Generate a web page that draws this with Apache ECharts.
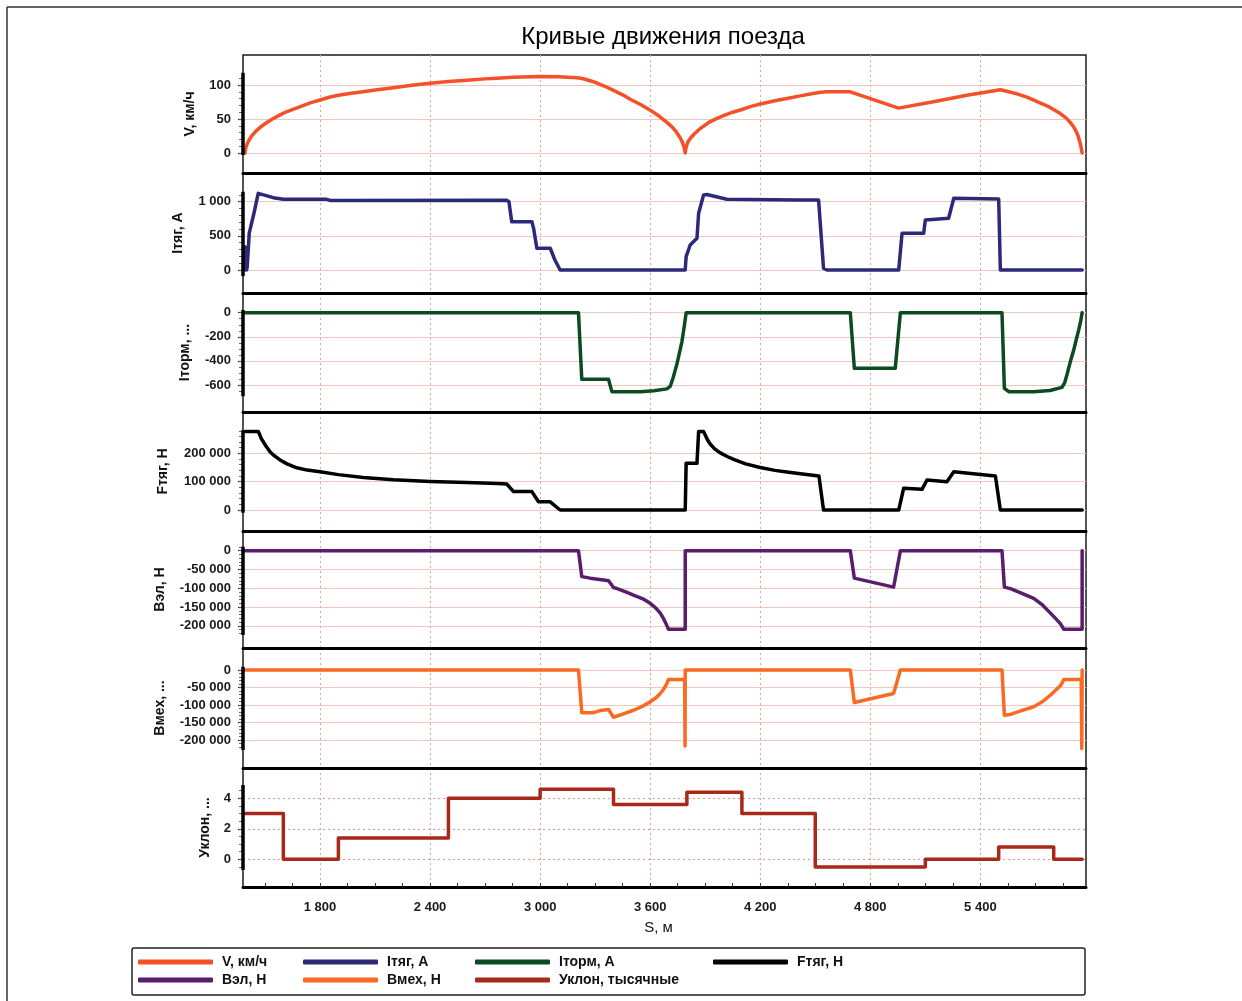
<!DOCTYPE html>
<html><head><meta charset="utf-8">
<script src="https://cdn.jsdelivr.net/npm/echarts@6/dist/echarts.min.js"></script>
<style>html,body{margin:0;padding:0;background:#fff}#c{width:1242px;height:1001px}</style>
</head><body><div id="c"></div><script>
// ---------- DATA ----------
const title = 'Кривые движения поезда';
const sAxisName = 'S, м';
const seriesNames = ['V, км/ч','Iтяг, А','Iторм, А','Fтяг, Н','Вэл, Н','Вмех, Н','Уклон, тысячные'];
const axisNames = ['V, км/ч','Iтяг, А','Iторм, ...','Fтяг, Н','Вэл, Н','Вмех, ...','Уклон, ...'];
const sTicks = [1800,2400,3000,3600,4200,4800,5400];
const sMinorTicks = [1500,1650,1800,1950,2100,2250,2400,2550,2700,2850,3000,3150,3300,3450,3600,3750,3900,4050,4200,4350,4500,4650,4800,4950,5100,5250,5400,5550,5700,5850];
const vTicks = [0,50,100];
const iTyagTicks = [0,500,1000];
const iTormTicks = [-600,-400,-200,0];
const fTicks = [0,100000,200000];
const bElTicks = [-200000,-150000,-100000,-50000,0];
const bMechTicks = [-200000,-150000,-100000,-50000,0];
const slopeTicks = [0,2,4];

const speed = [[1391,0],[1393,5],[1398,10],[1405,15],[1415,20],[1430,26],[1450,32],[1475,38],[1500,43],[1540,50],[1582,56],[1620,61],[1660,65],[1700,69],[1750,74],[1800,78],[1850,82],[1900,85],[1970,88],[2035,90],[2100,92.5],[2200,96],[2300,99.5],[2400,102.5],[2500,105],[2600,107],[2700,109],[2764,110],[2850,111.5],[2950,112.3],[3000,112.5],[3100,112],[3150,111.5],[3200,110.8],[3230,109.5],[3250,108],[3300,104],[3350,98.5],[3400,92],[3450,85.5],[3491,79],[3550,71],[3600,63],[3650,54],[3691,45],[3720,38],[3740,32],[3764,22],[3775,16],[3785,8],[3791,0],[3794,6],[3800,12],[3807,17],[3820,22],[3840,28],[3873,36],[3920,45],[3964,51],[4000,55],[4050,60],[4100,64],[4150,68.5],[4200,72],[4250,75],[4300,78],[4360,81],[4418,84],[4480,87],[4520,89],[4560,90],[4691,90],[4954,66],[5144,75.5],[5327,85],[5509,93],[5550,90.5],[5600,87],[5650,82.5],[5689,78],[5740,72],[5780,67],[5836,58],[5870,51],[5890,45],[5907,39],[5920,33],[5930,27],[5940,19],[5948,10],[5955,0]];
const iTyag = [[1390,0],[1391,340],[1400,0],[1403,50],[1414,540],[1440,834],[1463,1122],[1469,1122],[1545,1059],[1600,1035],[1836,1035],[1855,1018],[2818,1020],[2830,1000],[2845,707],[2955,707],[2965,600],[2982,318],[3055,318],[3080,150],[3109,0],[3791,0],[3796,195],[3818,366],[3855,464],[3864,830],[3891,1098],[3909,1105],[4018,1035],[4400,1025],[4518,1025],[4545,25],[4564,0],[4955,0],[4973,537],[5091,537],[5100,732],[5227,757],[5255,1050],[5500,1040],[5509,0],[5955,0]];
const iTorm = [[1391,0],[3209,0],[3227,-553],[3373,-553],[3391,-655],[3545,-655],[3620,-648],[3691,-632],[3709,-612],[3725,-540],[3745,-430],[3760,-330],[3773,-240],[3785,-120],[3796,0],[4691,0],[4713,-461],[4936,-461],[4964,0],[5518,0],[5531,-628],[5555,-655],[5689,-655],[5780,-645],[5845,-620],[5860,-580],[5873,-510],[5890,-410],[5909,-310],[5925,-210],[5936,-144],[5947,-70],[5955,0]];
const fTyag = [[1391,277000],[1463,277000],[1470,268000],[1480,252000],[1491,241000],[1505,226000],[1527,206000],[1550,192000],[1582,177000],[1620,163000],[1673,149000],[1730,141000],[1800,135000],[1900,125000],[2036,115000],[2200,107000],[2400,101000],[2600,97000],[2764,94000],[2818,92000],[2855,65000],[2955,65000],[2991,29000],[3055,29000],[3109,0],[3791,0],[3796,165000],[3855,165000],[3864,277000],[3891,277000],[3900,265000],[3912,248000],[3927,233000],[3950,217000],[3982,202000],[4020,189000],[4055,179000],[4120,163000],[4200,150000],[4280,140000],[4345,134000],[4430,127000],[4520,120000],[4545,0],[4955,0],[4982,77000],[5082,73000],[5109,106000],[5218,100000],[5255,135000],[5482,120000],[5509,0],[5955,0]];
const bEl = [[1391,0],[3209,0],[3227,-69000],[3273,-73000],[3345,-78000],[3373,-80000],[3400,-98000],[3420,-101000],[3470,-110000],[3509,-118000],[3560,-128000],[3600,-140000],[3630,-152000],[3655,-166000],[3672,-180000],[3685,-193000],[3700,-209000],[3791,-209000],[3791,0],[4691,0],[4713,-73000],[4927,-97000],[4964,0],[5518,0],[5531,-97000],[5564,-101000],[5620,-112000],[5691,-127000],[5740,-145000],[5782,-166000],[5810,-180000],[5836,-194000],[5855,-209000],[5955,-209000],[5955,0]];
const bMech = [[1391,0],[3209,0],[3227,-122000],[3291,-122000],[3327,-116000],[3373,-113000],[3400,-135000],[3450,-126000],[3509,-115000],[3560,-103000],[3600,-91000],[3630,-80000],[3655,-67000],[3670,-57000],[3682,-47000],[3692,-37000],[3700,-27000],[3788,-27000],[3790,-217000],[3791,0],[4691,0],[4713,-93000],[4927,-67000],[4964,0],[5518,0],[5531,-129000],[5564,-127000],[5620,-117000],[5691,-105000],[5740,-90000],[5782,-72000],[5810,-58000],[5836,-45000],[5848,-35000],[5855,-27000],[5950,-27000],[5953,-224000],[5955,0]];
const slope = [[1391,3],[1600,3],[1600,0],[1900,0],[1900,1.4],[2500,1.4],[2500,4],[3000,4],[3000,4.6],[3400,4.6],[3400,3.6],[3800,3.6],[3800,4.4],[4100,4.4],[4100,3],[4500,3],[4500,-0.5],[5100,-0.5],[5100,0],[5500,0],[5500,0.8],[5800,0.8],[5800,0],[5955,0]];

// ---------- LAYOUT / STYLE ----------
const FONT = 'Liberation Sans, Arial, sans-serif';
const X_MIN = 1380, X_MAX = 5976;
const PLOT_LEFT = 243, PLOT_RIGHT = 1086;
const tops =    [55,173,293,412,531,648,768];
const bottoms = [173,293,412,531,648,768,887];
const panels = [
  {data:speed, color:'#f4502a', min:-29.4, max:144.1, ticks:vTicks, minorStep:10, bar:[-3,118], nameGap:46},
  {data:iTyag, color:'#2c2a78', min:-337, max:1420, ticks:iTyagTicks, minorStep:100, bar:[-90,1145], nameGap:58},
  {data:iTorm, color:'#0c4a22', min:-824, max:163.5, ticks:iTormTicks, minorStep:50, bar:[-693,22], nameGap:51},
  {data:fTyag, color:'#000000', min:-74200, max:346300, ticks:fTicks, minorStep:20000, bar:[-9500,282000], nameGap:73},
  {data:bEl, color:'#5a1d6e', min:-258800, max:52400, ticks:bElTicks, minorStep:10000, bar:[-224000,10600], nameGap:76},
  {data:bMech, color:'#fa6a22', min:-280000, max:62900, ticks:bMechTicks, minorStep:10000, bar:[-228600,9400], nameGap:76},
  {data:slope, color:'#a8281a', min:-1.82, max:5.99, ticks:slopeTicks, minorStep:0.5, bar:[-0.7,4.87], nameGap:31, dashed:true}
];

function fmt(v){ return String(v).replace(/\B(?=(\d{3})+(?!\d))/g,' '); }

const grid=[], xAxis=[], yAxis=[], series=[];
panels.forEach((p,i)=>{
  const last = i === panels.length-1;
  grid.push({left:PLOT_LEFT, width:PLOT_RIGHT-PLOT_LEFT, top:tops[i], height:bottoms[i]-tops[i],
    show:true, borderColor:'#1e1a18', borderWidth:1.5, backgroundColor:'transparent'});
  xAxis.push({type:'value', gridIndex:i, min:X_MIN, max:X_MAX, position:'bottom',
    axisLine:{show:true, onZero:false, lineStyle:{color:'#000', width:3}},
    axisTick:last?{show:true, inside:true, length:4, customValues:sMinorTicks, lineStyle:{color:'#333'}}:{show:false},
    axisLabel:last?{show:true, customValues:sTicks, formatter:fmt, margin:14, fontSize:13, fontWeight:'bold', color:'#1a1a1a', fontFamily:FONT}:{show:false},
    splitLine:{show:false},
    name:last?sAxisName:'', nameLocation:'middle', nameGap:33,
    nameTextStyle:{fontSize:15, color:'#111', fontFamily:FONT, padding:[0,12,0,0]}
  });
  xAxis.push({type:'value', gridIndex:i, min:X_MIN, max:X_MAX, position:'bottom',
    axisLine:{show:false}, axisLabel:{show:false},
    axisTick:{show:false, customValues:sTicks},
    splitLine:{show:true, lineStyle:{color:'#dba597', width:1, type:[2,3]}}
  });
  yAxis.push({type:'value', gridIndex:i, min:p.min, max:p.max, position:'left',
    axisLine:{show:false},
    axisTick:{show:true, length:5, customValues:p.ticks, lineStyle:{color:'#222', width:1.2}},
    axisLabel:{show:true, customValues:p.ticks, formatter:fmt, margin:12, fontSize:13, fontWeight:'bold', color:'#1a1a1a', fontFamily:FONT},
    splitLine:{show:true, lineStyle:{color:p.dashed?'#d99a8c':'#ebc9bd', width:1, type:p.dashed?[2,3]:'solid'}},
    name:axisNames[i], nameLocation:'middle', nameGap:p.nameGap,
    nameTextStyle:{fontSize:14, fontWeight:'bold', color:'#111', fontFamily:FONT}
  });
  const minor=[];
  for(let v=Math.ceil(p.bar[0]/p.minorStep)*p.minorStep; v<=p.bar[1]; v+=p.minorStep) minor.push(Math.round(v*100)/100);
  yAxis.push({type:'value', gridIndex:i, min:p.min, max:p.max, position:'left',
    axisLine:{show:false}, axisLabel:{show:false}, splitLine:{show:false},
    axisTick:{show:true, length:4, customValues:minor, lineStyle:{color:'#666', width:1}}
  });
  series.push({type:'line', name:seriesNames[i], xAxisIndex:2*i, yAxisIndex:2*i, data:p.data,
    showSymbol:false, symbol:'none', animation:false, silent:true,
    lineStyle:{color:p.color, width:3.5, cap:'round', join:'round'}, itemStyle:{color:p.color},
    markLine:{symbol:['none','none'], silent:true, animation:false, label:{show:false},
      lineStyle:{color:'#000', width:3.5, type:'solid'},
      data:[[{coord:[X_MIN,p.bar[0]]},{coord:[X_MIN,p.bar[1]]}]]}
  });
});

const legendCommon = {orient:'vertical', icon:'roundRect', itemWidth:75, itemHeight:5, itemGap:4, padding:0,
  selectedMode:false, textStyle:{fontSize:14, fontWeight:'bold', color:'#111', fontFamily:FONT, padding:[0,0,0,4]}};
const legend = [
  Object.assign({left:138, top:955, data:[seriesNames[0], seriesNames[4]]}, legendCommon),
  Object.assign({left:303, top:955, data:[seriesNames[1], seriesNames[5]]}, legendCommon),
  Object.assign({left:475, top:955, data:[seriesNames[2], seriesNames[6]]}, legendCommon),
  Object.assign({left:713, top:955, data:[seriesNames[3]]}, legendCommon)
];

const chart = echarts.init(document.getElementById('c'), null, {renderer:'canvas'});
chart.setOption({
  animation:false, backgroundColor:'#fff',
  grid, xAxis, yAxis, series, legend,
  graphic:[
    {type:'text', x:663, y:37, style:{text:title, textAlign:'center', textVerticalAlign:'middle', font:'24px '+FONT, fill:'#000'}},
    {type:'rect', shape:{x:132, y:948, width:953, height:47, r:2}, style:{fill:'none', stroke:'#222', lineWidth:1.5}},
    {type:'line', shape:{x1:7, y1:7, x2:1242, y2:7}, style:{stroke:'#333', lineWidth:1.5}},
    {type:'line', shape:{x1:7, y1:7, x2:7, y2:1001}, style:{stroke:'#333', lineWidth:1.5}}
  ]
});
</script></body></html>
